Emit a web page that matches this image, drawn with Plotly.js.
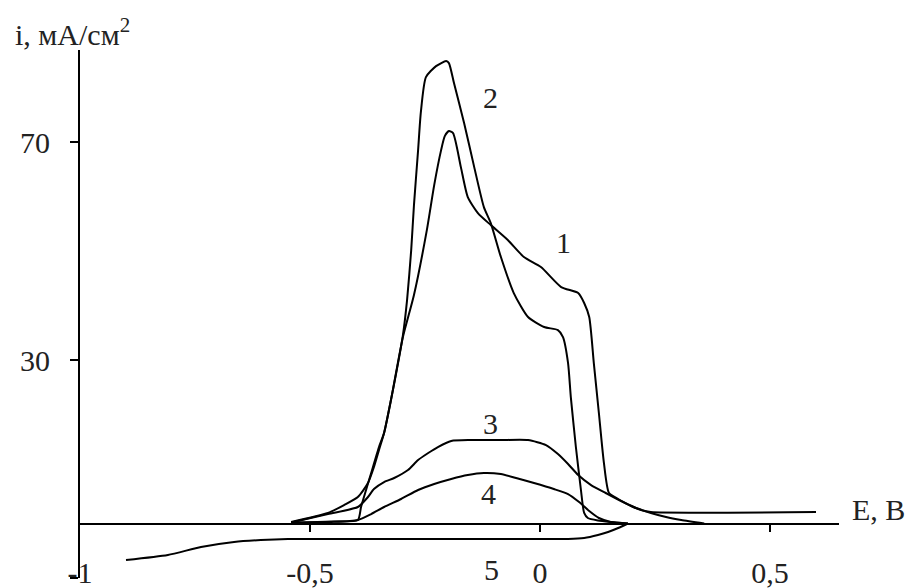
<!DOCTYPE html>
<html>
<head>
<meta charset="utf-8">
<script src="https://cdn.plot.ly/plotly-3.0.1.min.js"></script>
<style>
  body { margin: 0; background: #fff; }
  #chart { width: 916px; height: 588px; }
</style>
</head>
<body>
<div id="chart"></div>
<script>
// potentials (E, V) and current densities (i, mA/cm2)
var e1 = [-0.541, -0.461, -0.426, -0.396, -0.374, -0.361, -0.350, -0.339, -0.324, -0.298, -0.274, -0.246, -0.230, -0.215, -0.207, -0.198, -0.189, -0.172, -0.157, -0.135, -0.107, -0.070, -0.035, 0.002, 0.046, 0.083, 0.096, 0.107, 0.117, 0.128, 0.139, 0.150, 0.170, 0.198, 0.220, 0.241, 0.600];
var i1 = [0.28, 1.93, 3.39, 4.86, 7.43, 10.37, 13.49, 16.61, 22.66, 34.22, 41.93, 53.85, 62.11, 68.53, 71.10, 72.02, 71.65, 65.41, 59.91, 56.97, 54.77, 52.02, 48.90, 47.06, 43.39, 42.29, 40.46, 37.89, 29.45, 20.28, 11.10, 5.60, 4.50, 3.21, 2.48, 2.11, 2.11];

var e2 = [-0.541, -0.454, -0.396, -0.389, -0.367, -0.350, -0.339, -0.324, -0.298, -0.289, -0.280, -0.274, -0.265, -0.259, -0.248, -0.226, -0.204, -0.198, -0.187, -0.165, -0.143, -0.122, -0.107, -0.085, -0.057, -0.026, 0.009, 0.039, 0.050, 0.061, 0.067, 0.078, 0.089, 0.096, 0.104, 0.126, 0.154, 0.191];
var i2 = [0.18, 0.37, 0.64, 3.03, 9.27, 14.04, 16.61, 22.66, 34.59, 41.01, 50.18, 58.44, 68.53, 75.50, 81.93, 83.94, 84.86, 84.50, 80.83, 73.49, 65.41, 58.07, 55.14, 48.90, 42.29, 37.89, 36.06, 35.50, 34.22, 29.45, 23.21, 14.04, 6.15, 1.93, 1.01, 0.55, 0.28, 0];

var e3 = [-0.541, -0.461, -0.396, -0.374, -0.361, -0.339, -0.317, -0.287, -0.265, -0.243, -0.222, -0.193, -0.150, -0.085, -0.026, 0.013, 0.039, 0.061, 0.083, 0.111, 0.143, 0.176, 0.209, 0.241, 0.274, 0.307, 0.357];
var i3 = [0.18, 1.74, 3.03, 4.86, 6.33, 7.61, 8.35, 9.82, 11.65, 12.94, 14.04, 15.14, 15.32, 15.32, 15.32, 14.40, 12.75, 10.92, 8.90, 7.06, 5.60, 4.13, 2.84, 1.93, 1.19, 0.64, 0];

var e4 = [-0.541, -0.454, -0.396, -0.367, -0.339, -0.302, -0.265, -0.230, -0.193, -0.157, -0.122, -0.085, -0.052, -0.013, 0.030, 0.061, 0.085, 0.107, 0.128, 0.154, 0.191];
var i4 = [0.13, 0.28, 0.64, 1.74, 3.03, 4.50, 6.15, 7.25, 8.17, 8.90, 9.27, 9.08, 8.35, 7.43, 6.33, 5.41, 3.94, 2.29, 1.01, 0.28, 0];

// cathodic branch below zero
var eNeg = [-0.900, -0.809, -0.737, -0.665, -0.607, -0.548, -0.302, -0.085, 0.061, 0.096, 0.126, 0.148, 0.170, 0.191];
var iNeg = [-6.70, -5.78, -4.31, -3.39, -3.03, -2.84, -2.84, -2.84, -2.84, -2.66, -2.11, -1.56, -0.83, 0];

var curveNames = ['1', '2', '3', '4'];
var labelE = [0.05, -0.107, -0.107, -0.113];
var labelI = [51.5, 78.2, 18.4, 5.6];

var xTickVals = [-1, -0.5, 0, 0.5];
var xTickText = ['-1', '-0,5', '0', '0,5'];
var zeroTickVals = [-0.5, 0, 0.5];
var yTickVals = [-10, 30, 70];

var xRange = [-1, 0.65];
var yRange = [-10, 86.9];

var serif = 'Liberation Serif, Times New Roman, serif';
var fontSize = 30;
var margin = { l: 80, r: 77, t: 50, b: 10 };

// pixels per data unit, to hang the tick marks off the axes
var pxPerE = (916 - margin.l - margin.r) / (xRange[1] - xRange[0]);
var pxPerI = (588 - margin.t - margin.b) / (yRange[1] - yRange[0]);

function curve(x, y, name, xaxis) {
  return {
    x: x,
    y: y,
    name: name,
    xaxis: xaxis || 'x',
    yaxis: 'y',
    type: 'scatter',
    mode: 'lines',
    line: { color: '#000', width: 2, shape: 'spline', smoothing: 0.6 },
    hoverinfo: 'skip'
  };
}

var traces = [
  curve(e1, i1, curveNames[0]),
  curve(e2, i2, curveNames[1]),
  curve(e3, i3, curveNames[2]),
  curve(e4, i4, curveNames[3]),
  curve(eNeg, iNeg, 'cathodic', 'x2')
];

// tick marks as short line shapes, placed from the tick arrays
var shapes = [];
yTickVals.forEach(function (v) {
  shapes.push({
    type: 'line', xref: 'x', yref: 'y', layer: 'above',
    x0: xRange[0] - 9 / pxPerE, x1: xRange[0], y0: v, y1: v,
    line: { color: '#000', width: 2 }
  });
});
zeroTickVals.forEach(function (v) {
  shapes.push({
    type: 'line', xref: 'x', yref: 'y', layer: 'above',
    x0: v, x1: v, y0: 0, y1: -8 / pxPerI,
    line: { color: '#000', width: 2 }
  });
});

var textFont = { family: serif, size: fontSize, color: '#222' };

var annotations = [];
for (var k = 0; k < curveNames.length; k++) {
  annotations.push({
    x: labelE[k], y: labelI[k], xref: 'x', yref: 'y',
    text: curveNames[k], showarrow: false, font: textFont
  });
}
annotations.push({
  x: -0.088, y: 1.035, xref: 'paper', yref: 'paper',
  xanchor: 'left', yanchor: 'middle',
  text: 'i, мА/см<sup>2</sup>', showarrow: false, font: textFont
});
annotations.push({
  x: 1.015, y: 2.6, xref: 'paper', yref: 'y',
  xanchor: 'left', yanchor: 'middle',
  text: 'E, B', showarrow: false, font: textFont
});
annotations.push({
  x: -0.106, y: 0.016, xref: 'x', yref: 'paper',
  yanchor: 'middle',
  text: '5', showarrow: false, font: textFont
});

var layout = {
  width: 916,
  height: 588,
  margin: margin,
  paper_bgcolor: '#fff',
  plot_bgcolor: '#fff',
  showlegend: false,
  font: { family: serif, size: fontSize, color: '#222' },
  xaxis: {
    range: xRange,
    ticks: '',
    tickvals: xTickVals,
    ticktext: xTickText,
    ticklabelstandoff: -26,
    showgrid: false,
    zeroline: false
  },
  xaxis2: {
    range: xRange,
    overlaying: 'x',
    anchor: 'free',
    position: (0 - yRange[0]) / (yRange[1] - yRange[0]),
    ticks: 'outside',
    ticklen: 7,
    tickwidth: 2,
    tickcolor: '#000',
    tickvals: zeroTickVals,
    showticklabels: false,
    showgrid: false,
    zeroline: false
  },
  yaxis: {
    range: yRange,
    showline: true,
    linewidth: 2,
    linecolor: '#000',
    ticks: 'outside',
    ticklen: 8,
    tickwidth: 2,
    tickcolor: '#000',
    tickvals: yTickVals,
    ticklabelstandoff: 14,
    zeroline: true,
    zerolinewidth: 2,
    zerolinecolor: '#000',
    showgrid: false
  },
  shapes: shapes,
  annotations: annotations
};

Plotly.newPlot('chart', traces, layout, { displayModeBar: false });
</script>
</body>
</html>
